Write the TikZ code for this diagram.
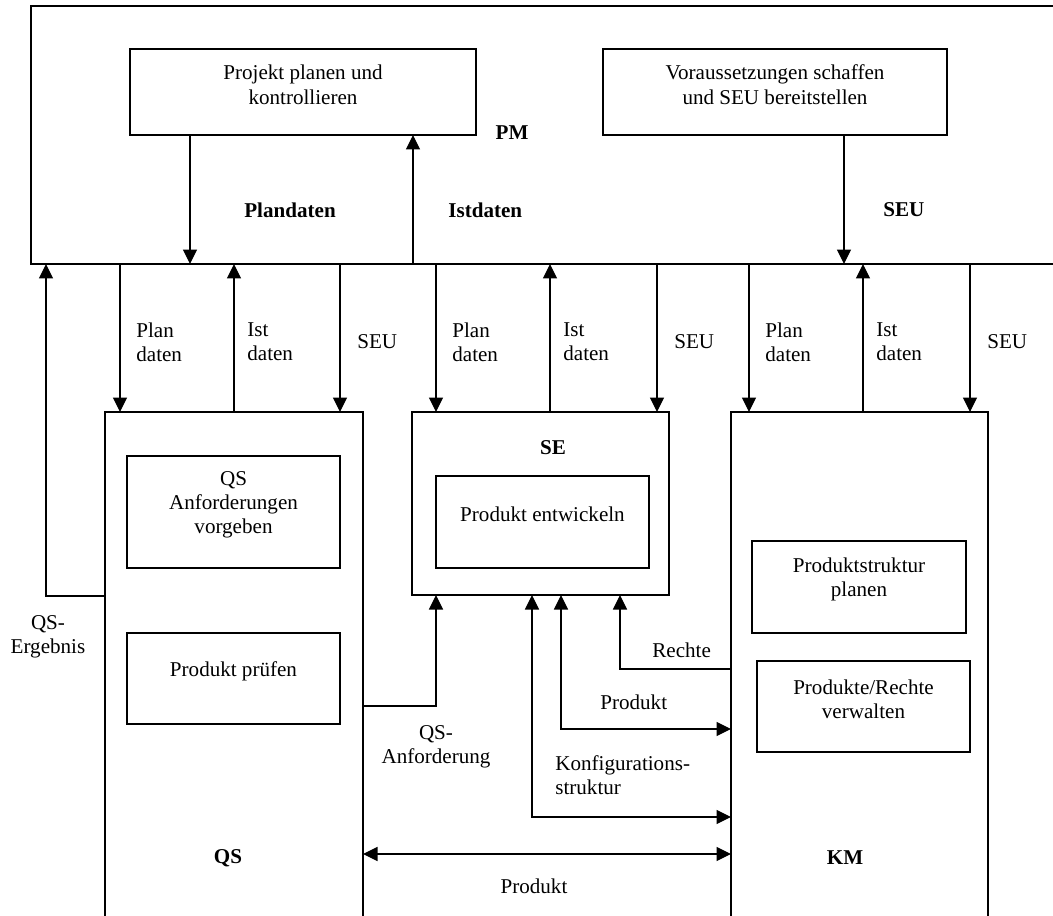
\documentclass[tikz,border=0pt]{standalone}
\usepackage{fontspec}
\setmainfont{Liberation Serif}
\usetikzlibrary{arrows.meta,fit}

\begin{document}
\begin{tikzpicture}[x=0.02cm, y=-0.02cm,
    font=\fontsize{12}{13.8}\selectfont,
    >={Triangle[length=2.9mm,width=2.8mm]},
    box/.style={draw, line width=0.6pt, inner sep=0pt, outer sep=0pt, align=center},
    lbl/.style={inner sep=0pt, align=left, anchor=west},
    head/.style={inner sep=0pt, font=\fontsize{12}{13.8}\selectfont\bfseries},
    flow/.style={line width=0.7pt}]
    \useasboundingbox (0,0) rectangle (1053,915);
    \clip (0,0) rectangle (1053,915);
    % main areas
    \node[box, fit={(31,6) (1080,264)}] (pm) {};
    \node[box, fit={(105,412) (363,940)}] (qs) {};
    \node[box, fit={(412,412) (669,595)}] (se) {};
    \node[box, fit={(731,412) (988,940)}] (km) {};
    \node[head] at (512,133) {PM};
    \node[head] at (228,858) {QS};
    \node[head] at (553,448) {SE};
    \node[head] at (845,858) {KM};
    % activities
    \node[box, fit={(130,49) (476,135)}] (pk) {Projekt planen und\\kontrollieren};
    \node[box, fit={(603,49) (947,135)}] (vs) {Voraussetzungen schaffen\\und SEU bereitstellen};
    \node[box, fit={(127,456) (340,568)}] (qsreq) {QS\\Anforderungen\\vorgeben};
    \node[box, fit={(127,633) (340,724)}] (qstest) {Produkt pr\"ufen};
    \node[box, fit={(436,476) (649,568)}] (sedev) {Produkt entwickeln};
    \node[box, fit={(752,541) (966,633)}] (kmplan) {Produktstruktur\\planen};
    \node[box, fit={(757,661) (970,752)}] (kmman) {Produkte/Rechte\\verwalten};
    % inside PM
    \coordinate (pd) at (190,0);
    \coordinate (id) at (413,0);
    \coordinate (sd) at (844,0);
    \draw[flow,->] (pk.south -| pd) -- (pm.south -| pd);
    \draw[flow,->] (pm.south -| id) -- (pk.south -| id);
    \draw[flow,->] (vs.south -| sd) -- (pm.south -| sd);
    \node[head, anchor=west] at (244,210) {Plandaten};
    \node[head, anchor=west] at (448,210) {Istdaten};
    \node[head, anchor=west] at (883,210) {SEU};
    % PM to QS, SE, KM
    \foreach \b/\p/\i/\s in {qs/120/234/340, se/436/550/657, km/749/863/970} {
      \coordinate (cp) at (\p,0);
      \coordinate (ci) at (\i,0);
      \coordinate (cs) at (\s,0);
      \draw[flow,->] (pm.south -| cp) -- (\b.north -| cp);
      \draw[flow,->] (\b.north -| ci) -- (pm.south -| ci);
      \draw[flow,->] (pm.south -| cs) -- (\b.north -| cs);
      \node[lbl] at (\p+16,342) {Plan\\daten};
      \node[lbl] at (\i+13,342) {Ist\\daten};
      \node[lbl] at (\s+17,342) {SEU};
    }
    % between the areas
    \coordinate (qe) at (46,596);
    \coordinate (qa) at (436,706);
    \coordinate (ks) at (532,817);
    \coordinate (pr) at (561,729);
    \coordinate (re) at (620,669);
    \coordinate (pb) at (0,854);
    \draw[flow,->] (qs.west |- qe) -- (qe) -- (pm.south -| qe);
    \draw[flow,->] (qs.east |- qa) -- (qa) -- (se.south -| qa);
    \draw[flow,<->] (se.south -| ks) -- (ks) -- (km.west |- ks);
    \draw[flow,<->] (se.south -| pr) -- (pr) -- (km.west |- pr);
    \draw[flow,->] (km.west |- re) -- (re) -- (se.south -| re);
    \draw[flow,<->] (qs.east |- pb) -- (km.west |- pb);
    \node[inner sep=0pt, align=center] at (48,637) {QS-\\Ergebnis};
    \node[inner sep=0pt, align=center] at (436,747) {QS-\\Anforderung};
    \node[lbl] at (555,775) {Konfigurations-\\struktur};
    \node[lbl] at (600,702) {Produkt};
    \node[lbl] at (652,650) {Rechte};
    \node[inner sep=0pt] at (534,886) {Produkt};
\end{tikzpicture}
\end{document}
